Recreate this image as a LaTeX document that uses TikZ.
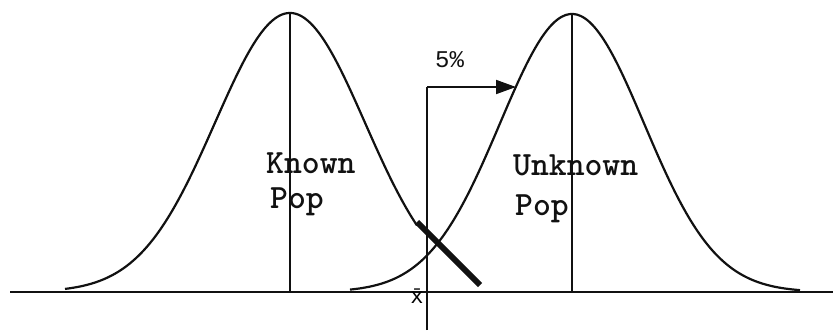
\documentclass[tikz,border=0pt]{standalone}
\usepackage{fontspec}
\usepackage{tikz}
\usetikzlibrary{arrows.meta,positioning}
\newfontfamily\labelfont{Liberation Mono}
\definecolor{Ink}{HTML}{111111}

\begin{document}
\begin{tikzpicture}[
  x=1pt,y=1pt,
  axis/.style={draw=Ink,line width=2.6pt},
  bell/.style={draw=Ink,line width=2.2pt,smooth,samples=120},
  mid/.style={draw=Ink,line width=2.2pt},
  tail/.style={draw=Ink,line width=6pt},
  arr/.style={-{Triangle[length=20pt,width=14pt]},line width=1.8pt,draw=Ink},
  lbl/.style={font=\fontsize{34}{36}\selectfont\ttfamily\bfseries,anchor=base west,inner sep=0pt,text=Ink},
  pct/.style={font=\fontsize{24}{26}\selectfont\labelfont,anchor=base west,inner sep=0pt,text=Ink}
]
\useasboundingbox (0,0) rectangle (833,333);
% axis and curves
\coordinate (axl) at (10,41);
\coordinate (axr) at (833,41);
\draw[axis](axl)--(axr);
\draw[bell] plot[domain=65:417] (\x,{41+279*exp(-((\x-290)/75)^2/2)});
\draw[bell] plot[domain=350:800] (\x,{41+278*exp(-((\x-572)/72)^2/2)});
% means
\coordinate (kpk) at (290,320);
\coordinate (kbs) at (290,41);
\coordinate (upk) at (572,319);
\coordinate (ubs) at (572,41);
\draw[mid](kpk)--(kbs);
\draw[mid](upk)--(ubs);
% critical value
\coordinate (ctop) at (427,246);
\coordinate (cbot) at (427,3);
\coordinate (ctip) at (516,246);
\draw[mid](cbot)--(ctop);
\draw[arr](ctop)--(ctip);
\coordinate (ta) at (417,111);
\coordinate (tb) at (480,48);
\draw[tail](ta)--(tb);
% labels
\node[lbl](known) at (266,160){Known};
\node[lbl](kpop) at (270,125){Pop};
\node[lbl](unknown) at (513,158){Unknown};
\node[lbl](upop) at (515,118){Pop};
\node[pct](five) at (435,266){5\%};
\node[inner sep=0pt,anchor=base,font=\fontsize{22}{24}\selectfont\labelfont](xbar) at (417,30){x^^^^0304};
\end{tikzpicture}
\end{document}
